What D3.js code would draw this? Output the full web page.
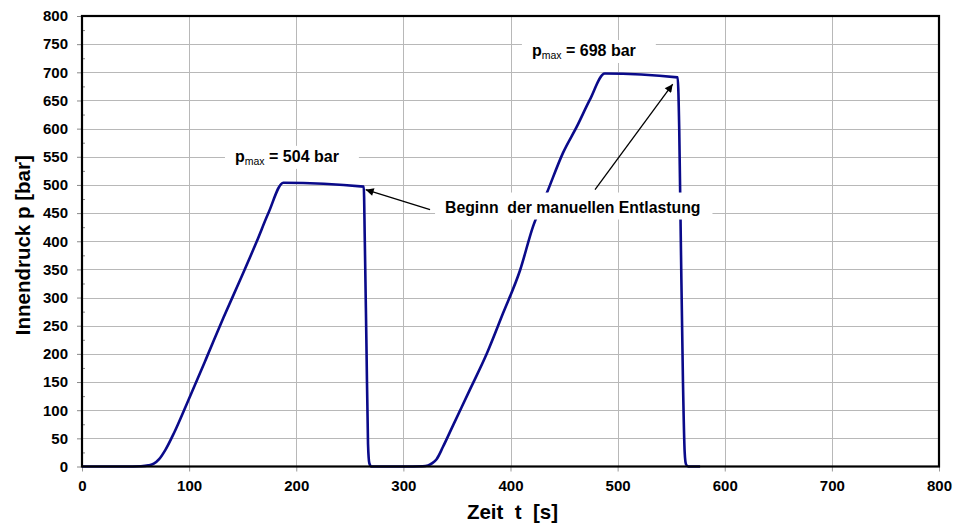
<!DOCTYPE html>
<html>
<head>
<meta charset="utf-8">
<script src="https://cdn.jsdelivr.net/npm/d3@7"></script>
<style>
  html, body { margin: 0; padding: 0; background: #fff; }
  svg { display: block; font-family: "Liberation Sans", Arial, sans-serif; }
</style>
</head>
<body>
<svg id="chart" width="955" height="525"></svg>
<script>
// ---- data ----
const timeValues = [0, 40, 55, 62, 67, 72, 78, 86, 98, 116, 132, 148, 163, 174, 188, 263, 264, 265.5, 267, 268.2, 270,
  300, 318, 323, 327, 331, 337, 346.6, 362, 378, 393, 409, 421, 434, 449, 462, 474, 488, 556, 557.5, 559, 561, 562.6, 563.8, 566, 577];
const pressureValues = [0, 0, 0.5, 2, 5, 13, 30, 60, 112, 192, 264, 333, 399, 450, 504, 497, 400, 220, 40, 6, 0,
  0, 0.5, 2, 6, 13, 35, 74, 136, 201, 272, 349, 426, 486, 557, 604, 651, 698, 691, 600, 400, 150, 25, 4, 0, 0];
const xTicks = [0, 100, 200, 300, 400, 500, 600, 700, 800];
const yTicks = [0, 50, 100, 150, 200, 250, 300, 350, 400, 450, 500, 550, 600, 650, 700, 750, 800];
const yMinorTicks = [25, 75, 125, 175, 225, 275, 325, 375, 425, 475, 525, 575, 625, 675, 725, 775];
const xTitle = "Zeit  t  [s]";
const yTitle = "Innendruck p [bar]";
// annotations in data units
const peakLabels = [
  { t: 142.8, p: 541, value: 504 },
  { t: 420, p: 729, value: 698 }
];
const noteText = "Beginn  der manuellen Entlastung";
const notePos = { t: 338.9, p: 451 };
const arrows = [
  { from: [324.9, 456], to: [264.8, 491.6] },
  { from: [478.9, 491.6], to: [551.4, 679] }
];

// ---- layout ----
const W = 955, H = 525;
const m = { left: 82, right: 16, top: 16, bottom: 58.5 };
const svg = d3.select("#chart");
const x = d3.scaleLinear().domain([0, 800]).range([m.left, W - m.right]);
const y = d3.scaleLinear().domain([0, 800]).range([H - m.bottom, m.top]);

// defs
svg.append("defs").append("marker")
  .attr("id", "arrowhead").attr("viewBox", "0 0 10 10")
  .attr("refX", 10).attr("refY", 5)
  .attr("markerWidth", 10).attr("markerHeight", 8)
  .attr("markerUnits", "userSpaceOnUse")
  .attr("orient", "auto")
  .append("path").attr("d", "M0,0 L10,5 L0,10 z").attr("fill", "#000");

// grid
const grid = svg.append("g").attr("stroke", "#b8b8b8").attr("stroke-width", 1);
grid.selectAll("line.h").data(yTicks.slice(1, -1)).enter().append("line")
  .attr("x1", x(0)).attr("x2", x(800))
  .attr("y1", d => Math.round(y(d)) + 0.5).attr("y2", d => Math.round(y(d)) + 0.5);
grid.selectAll("line.v").data(xTicks.slice(1, -1)).enter().append("line")
  .attr("y1", y(0)).attr("y2", y(800))
  .attr("x1", d => Math.round(x(d)) + 0.5).attr("x2", d => Math.round(x(d)) + 0.5);

// axes
const yAxis = d3.axisLeft(y).tickValues(yTicks).tickSize(5).tickPadding(9);
const gy = svg.append("g").attr("transform", `translate(${m.left},0)`).call(yAxis);
gy.select(".domain").remove();
gy.selectAll("line").attr("stroke", "#888");
gy.selectAll("text").attr("font-size", 15).attr("font-weight", "bold").attr("fill", "#000");

const yMinor = d3.axisRight(y).tickValues(yMinorTicks).tickSize(3).tickFormat("");
const gym = svg.append("g").attr("transform", `translate(${m.left},0)`).call(yMinor);
gym.select(".domain").remove();
gym.selectAll("line").attr("stroke", "#888");

const xAxis = d3.axisBottom(x).tickValues(xTicks).tickSize(5).tickPadding(9);
const gx = svg.append("g").attr("transform", `translate(0,${H - m.bottom})`).call(xAxis);
gx.select(".domain").remove();
gx.selectAll("line").attr("stroke", "#999");
gx.selectAll("text").attr("font-size", 15).attr("font-weight", "bold").attr("fill", "#000");

// curve
const data = timeValues.map((t, i) => [t, pressureValues[i]]);
const line = d3.line().x(d => x(d[0])).y(d => y(d[1])).curve(d3.curveMonotoneX);
svg.append("path").datum(data)
  .attr("d", line).attr("fill", "none")
  .attr("stroke", "#0a0a8a").attr("stroke-width", 2.6)
  .attr("stroke-linejoin", "round");

// peak labels
peakLabels.forEach(l => {
  const g = svg.append("g");
  const rect = g.append("rect").attr("fill", "#fff");
  const txt = g.append("text")
    .attr("x", x(l.t)).attr("y", y(l.p))
    .attr("font-size", 16).attr("font-weight", "bold").attr("fill", "#000");
  txt.append("tspan").text("p");
  txt.append("tspan").text("max").attr("font-size", 10.5).attr("font-weight", "normal").attr("dy", 3);
  txt.append("tspan").text(" = " + l.value + " bar").attr("dy", -3);
  const bb = txt.node().getBBox();
  rect.attr("x", bb.x - 10).attr("y", bb.y - 2).attr("width", bb.width + 30).attr("height", bb.height + 4);
});

// note
{
  const g = svg.append("g");
  const rect = g.append("rect").attr("fill", "#fff");
  const txt = g.append("text")
    .attr("x", x(notePos.t)).attr("y", y(notePos.p))
    .attr("font-size", 15.8).attr("font-weight", "bold").attr("fill", "#000")
    .style("white-space", "pre")
    .text(noteText);
  const bb = txt.node().getBBox();
  rect.attr("x", bb.x - 10).attr("y", bb.y - 6).attr("width", bb.width + 22).attr("height", bb.height + 10);
}

// arrows
svg.selectAll("line.arrow").data(arrows).enter().append("line")
  .attr("x1", d => x(d.from[0])).attr("y1", d => y(d.from[1]))
  .attr("x2", d => x(d.to[0])).attr("y2", d => y(d.to[1]))
  .attr("stroke", "#000").attr("stroke-width", 1.3)
  .attr("marker-end", "url(#arrowhead)");

// frame
svg.append("rect")
  .attr("x", x(0)).attr("y", y(800))
  .attr("width", x(800) - x(0)).attr("height", y(0) - y(800))
  .attr("fill", "none").attr("stroke", "#000").attr("stroke-width", 2.2);

// titles
svg.append("text").attr("x", (x(0) + x(800)) / 2 + 2).attr("y", 519)
  .attr("text-anchor", "middle").attr("font-size", 20.5).attr("font-weight", "bold")
  .style("white-space", "pre").text(xTitle);
svg.append("text")
  .attr("transform", `translate(30,${(y(0) + y(800)) / 2 + 4}) rotate(-90)`)
  .attr("text-anchor", "middle").attr("font-size", 20.5).attr("font-weight", "bold")
  .text(yTitle);
</script>
</body>
</html>
